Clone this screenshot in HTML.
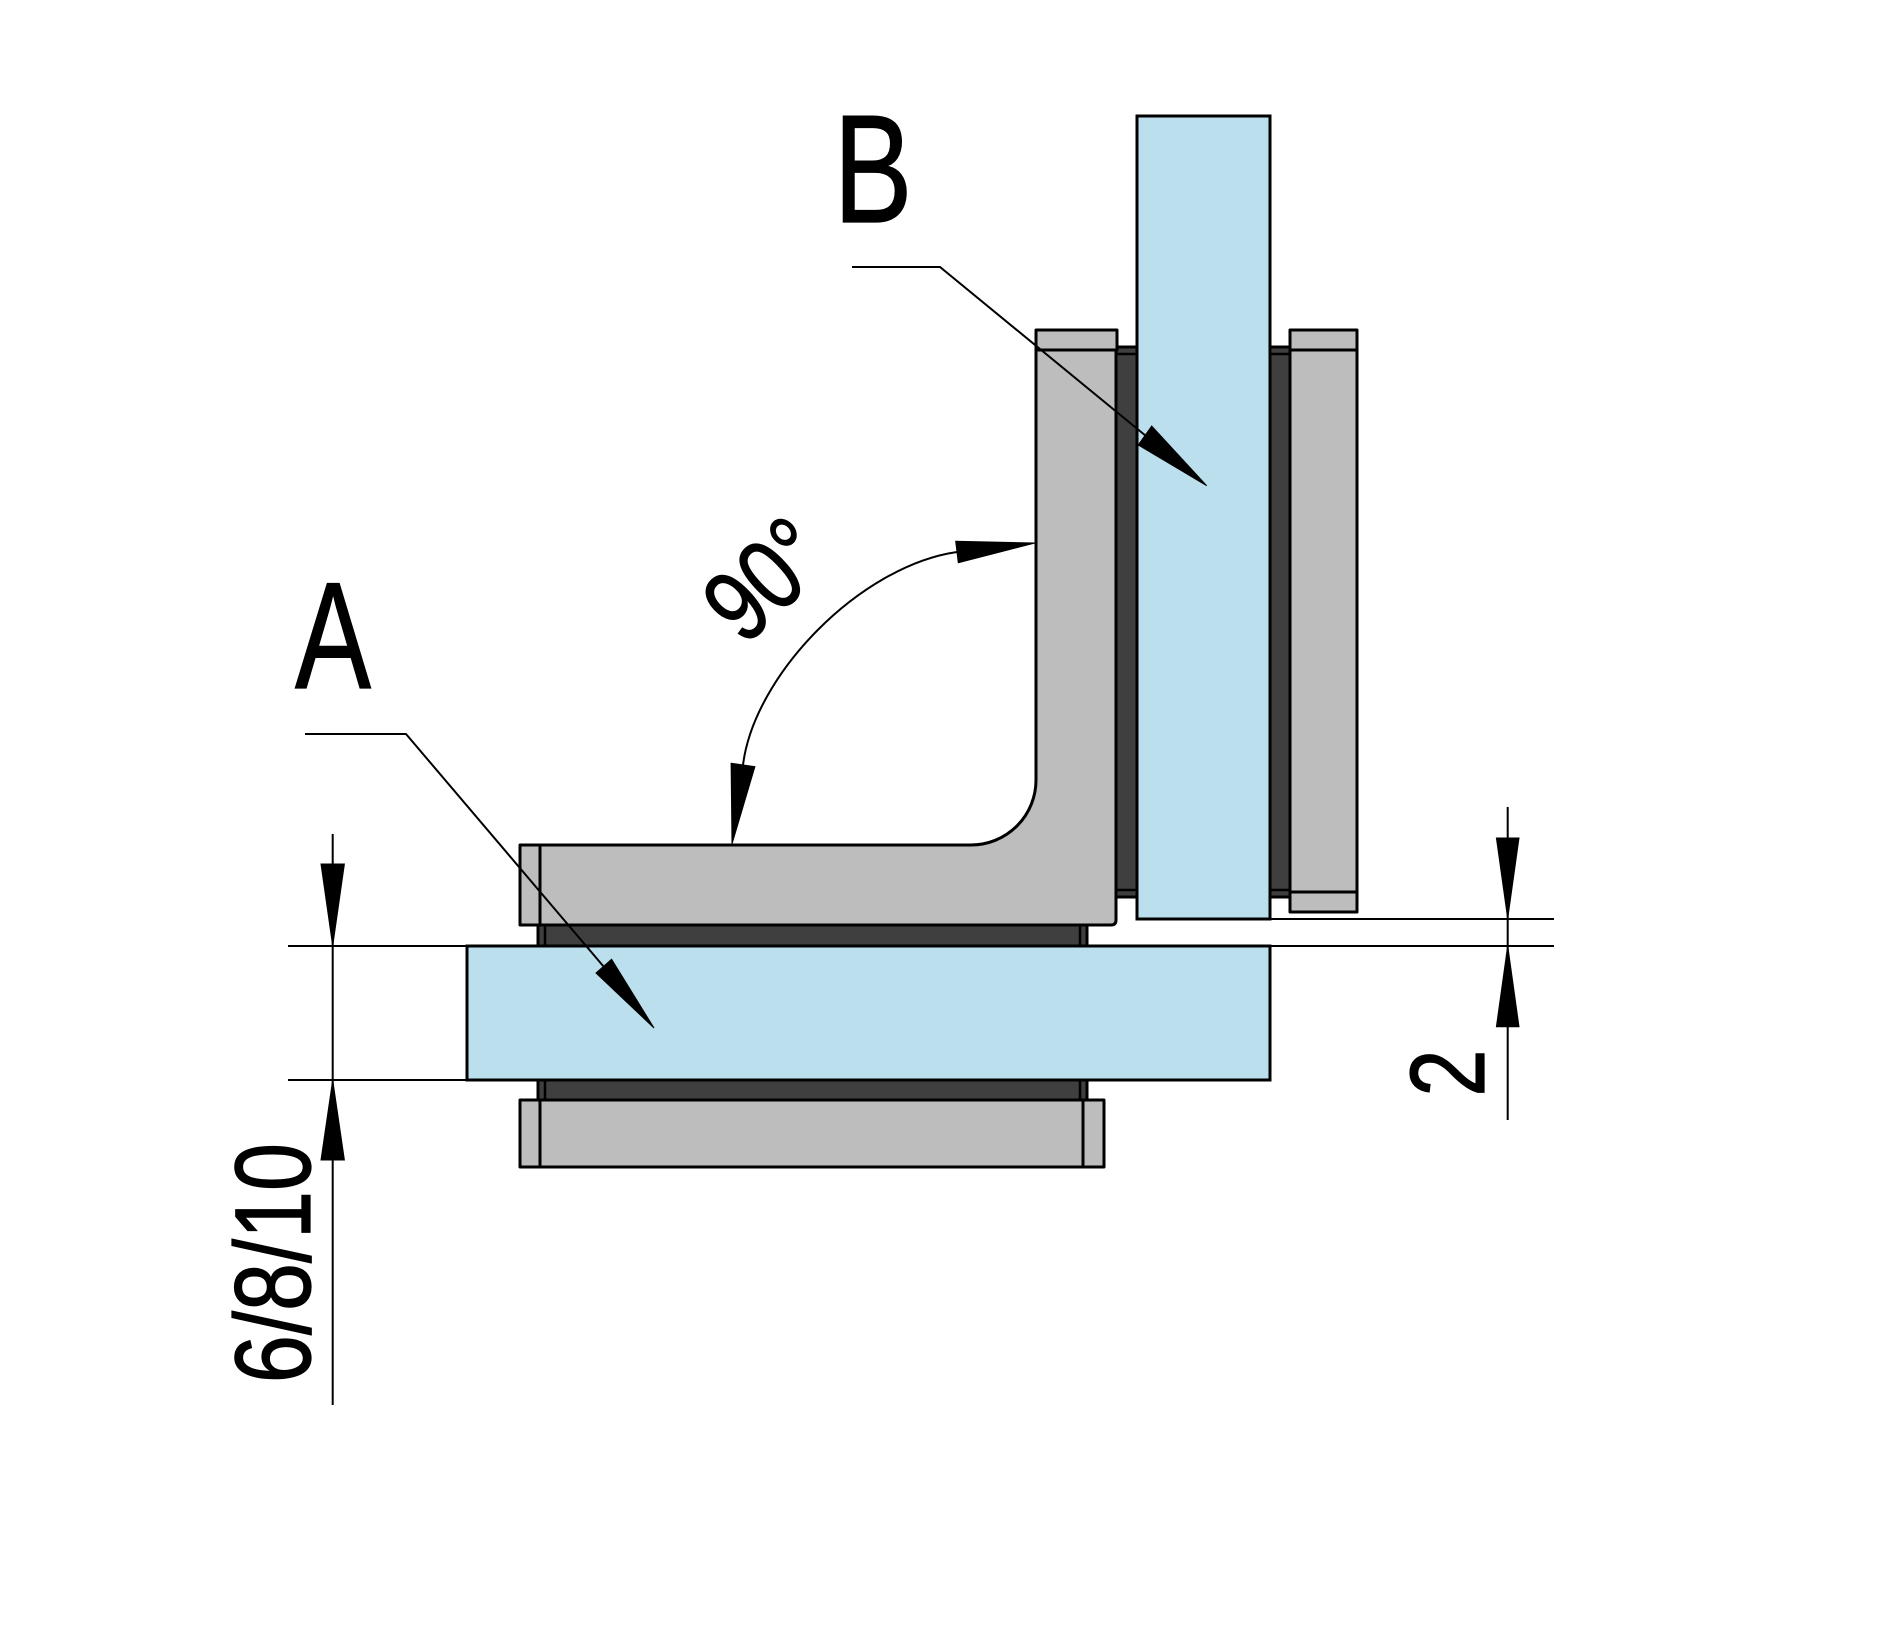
<!DOCTYPE html>
<html>
<head>
<meta charset="utf-8">
<style>
  html, body { margin: 0; padding: 0; background: #ffffff; }
  svg { display: block; }
  text { font-family: "Liberation Sans", "DejaVu Sans", sans-serif; fill: #000; stroke: #000; stroke-width: 1.2; }
</style>
</head>
<body>
<svg width="1881" height="1632" viewBox="0 0 1881 1632" xmlns="http://www.w3.org/2000/svg">
  <rect x="0" y="0" width="1881" height="1632" fill="#ffffff"/>

  <!-- ===== Gaskets (dark) ===== -->
  <g fill="#3f3f3f" stroke="#000" stroke-width="3">
    <rect x="538" y="925" width="549" height="21"/>
    <rect x="538" y="1080" width="549" height="20"/>
    <rect x="1116" y="347" width="21" height="550"/>
    <rect x="1270" y="347" width="20" height="550"/>
  </g>
  <g stroke="#000" stroke-width="2.5" fill="none">
    <line x1="545" y1="925" x2="545" y2="946"/>
    <line x1="1080" y1="925" x2="1080" y2="946"/>
    <line x1="545" y1="1080" x2="545" y2="1100"/>
    <line x1="1080" y1="1080" x2="1080" y2="1100"/>
    <line x1="1116" y1="354" x2="1137" y2="354"/>
    <line x1="1116" y1="890" x2="1137" y2="890"/>
    <line x1="1270" y1="354" x2="1290" y2="354"/>
    <line x1="1270" y1="890" x2="1290" y2="890"/>
  </g>

  <!-- ===== Grey metal parts ===== -->
  <g fill="#bdbdbd" stroke="#000" stroke-width="3" stroke-linejoin="round">
    <path d="M540 845 L971 845 A65 65 0 0 0 1036 780 L1036 350 L1116 350 L1116 920 Q1116 925 1111 925 L540 925 Z"/>
    <rect x="520" y="845" width="20" height="80"/>
    <rect x="1036" y="330" width="81" height="20"/>
    <rect x="520" y="1100" width="584" height="67"/>
    <rect x="1290" y="330" width="67" height="582"/>
  </g>
  <g stroke="#000" stroke-width="3" fill="none">
    <line x1="540" y1="1100" x2="540" y2="1167"/>
    <line x1="1083" y1="1100" x2="1083" y2="1167"/>
    <line x1="1290" y1="350" x2="1357" y2="350"/>
    <line x1="1290" y1="892" x2="1357" y2="892"/>
  </g>

  <!-- ===== Glass panes ===== -->
  <g fill="#bcdfee" stroke="#000" stroke-width="3">
    <rect x="467" y="946" width="803" height="134"/>
    <rect x="1137" y="116" width="133" height="803"/>
  </g>

  <!-- ===== Dimension / extension lines ===== -->
  <g stroke="#000" stroke-width="2" fill="none">
    <line x1="288" y1="946" x2="467" y2="946"/>
    <line x1="288" y1="1080" x2="467" y2="1080"/>
    <line x1="332.7" y1="834" x2="332.7" y2="1405"/>
    <line x1="1270" y1="919" x2="1554" y2="919"/>
    <line x1="1270" y1="946" x2="1554" y2="946"/>
    <line x1="1507.7" y1="807" x2="1507.7" y2="1120"/>
    <polyline points="305,734 406,734 604,967"/>
    <polyline points="852,267 940,267 1146,436"/>
    <path d="M743 765 C754 675 860 566 957 552"/>
  </g>

  <!-- ===== Arrowheads ===== -->
  <g fill="#000" stroke="#000" stroke-width="1" stroke-linejoin="miter">
    <polygon points="321,864 344.4,864 332.7,946"/>
    <polygon points="321,1160 344.4,1160 332.7,1080"/>
    <polygon points="1496.4,838 1519,838 1507.7,918.7"/>
    <polygon points="1496.4,1026.7 1519,1026.7 1507.7,945.7"/>
    <polygon points="596,973 611.6,959.3 654,1028"/>
    <polygon points="1151.7,426 1138.3,445 1206.7,485.7"/>
    <polygon points="731.1,763.3 754.9,766.7 732,844"/>
    <polygon points="955.7,541.3 958.3,562.7 1035,543"/>
  </g>

  <!-- ===== Labels ===== -->
  <text transform="translate(873,222) scale(0.77,1)" font-size="154" text-anchor="middle">B</text>
  <text transform="translate(333,688) scale(0.75,1)" font-size="152" text-anchor="middle">A</text>
  <text transform="translate(310,1263) rotate(-90) scale(0.80,1)" font-size="108" text-anchor="middle">6/8/10</text>
  <text transform="translate(1484,1073) rotate(-90) scale(0.80,1)" font-size="106" text-anchor="middle">2</text>
  <text transform="translate(744,647) rotate(-43) scale(0.8,1)" font-size="102">90°</text>
</svg>
</body>
</html>
